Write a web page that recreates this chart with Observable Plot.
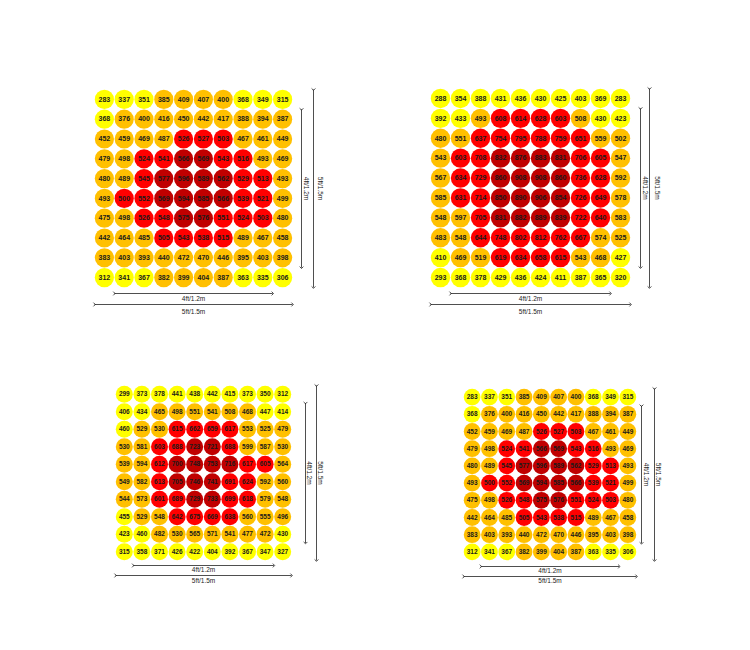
<!DOCTYPE html>
<html><head><meta charset="utf-8">
<script src="https://cdn.jsdelivr.net/npm/d3@7"></script>
<script src="https://cdn.jsdelivr.net/npm/@observablehq/plot@0.6"></script>
<style>
html,body{margin:0;padding:0;background:#fff;}
#wrap{position:relative;width:750px;height:650px;overflow:hidden;}
#wrap svg{position:absolute;left:0;top:0;}
</style></head><body><div id="wrap"></div>
<script>
// PPFD readings, rows top to bottom, columns left to right
const gridA = [
  [283,337,351,385,409,407,400,368,349,315],
  [368,376,400,416,450,442,417,388,394,387],
  [452,459,469,487,526,527,503,467,461,449],
  [479,498,524,541,566,569,543,516,493,469],
  [480,489,545,577,596,589,562,529,513,493],
  [493,500,552,569,594,585,566,539,521,499],
  [475,498,526,548,575,576,551,524,503,480],
  [442,464,485,505,543,538,515,489,467,458],
  [383,403,393,440,472,470,446,395,403,398],
  [312,341,367,382,399,404,387,363,335,306]
];
const gridB = [
  [288,354,388,431,436,430,425,403,369,283],
  [392,433,493,608,614,628,603,508,430,423],
  [480,551,637,754,795,788,759,651,559,502],
  [543,603,708,832,876,883,831,706,605,547],
  [567,634,729,860,908,908,860,736,628,592],
  [585,631,714,850,890,906,854,726,649,578],
  [548,597,705,831,882,889,839,722,640,583],
  [483,548,644,748,802,812,762,667,574,525],
  [410,469,519,619,634,658,615,543,468,427],
  [293,368,378,429,436,424,411,387,365,320]
];
const gridC = [
  [299,373,378,441,438,442,415,373,350,312],
  [406,434,465,498,551,541,508,468,447,414],
  [460,529,530,615,662,659,617,553,525,479],
  [530,581,603,688,723,721,688,599,587,530],
  [539,594,612,700,748,753,716,617,605,564],
  [549,582,613,705,746,741,691,624,592,560],
  [544,573,601,689,729,733,699,618,579,548],
  [455,529,548,642,675,669,638,560,555,496],
  [423,460,482,530,565,571,541,477,472,430],
  [315,358,371,426,422,404,392,367,347,327]
];
const thresholdsA = [375, 500, 556];
const thresholdsB = [450, 600, 820];
const thresholdsC = [462, 600, 700];
const levelColors = ["#ffff00", "#ffc000", "#ff0000", "#c00000"];
const dimLabels = ["4ft/1.2m", "5ft/1.5m"];
const dimFrom = [0.5, 0];
const dimTo = [4.5, 5];
const gridSize = 5; // ft

// layout (pixels) of each panel
const panels = [
  {grid: gridA, thr: thresholdsA, x: [94, 292], y: [89, 287], r: 9.6, fs: 7,
   hOff: [6, 17], hText: [11, 24], vOff: [9, 21], vText: [14, 28]},
  {grid: gridB, thr: thresholdsB, x: [430, 630], y: [88, 287], r: 9.7, fs: 7,
   hOff: [6, 17], hText: [11, 24], vOff: [10, 19], vText: [15, 27]},
  {grid: gridC, thr: thresholdsC, x: [115, 291], y: [385, 560], r: 8.5, fs: 6.5,
   hOff: [5, 15], hText: [9, 20], vOff: [14, 25], vText: [18, 29]},
  {grid: gridA, thr: thresholdsA, x: [463, 636], y: [388, 560], r: 8.4, fs: 6.5,
   hOff: [6, 16], hText: [10, 20], vOff: [5, 18], vText: [10, 22]}
];

const wrap = document.getElementById("wrap");
for (const p of panels) {
  const n = p.grid.length;
  const step = gridSize / n;
  const cells = [];
  p.grid.forEach((row, i) => row.forEach((v, j) => cells.push({x: (j + 0.5) * step, y: (i + 0.5) * step, v})));
  const dims = dimLabels.map((label, k) => ({label, from: dimFrom[k], to: dimTo[k], mid: (dimFrom[k] + dimTo[k]) / 2}));
  const marks = [
    Plot.dot(cells, {x: "x", y: "y", r: p.r, fill: "v"}),
    Plot.text(cells, {x: "x", y: "y", text: d => String(d.v), fill: "#1a1a1a", fontWeight: "bold", fontSize: p.fs})
  ];
  dims.forEach((d, k) => {
    marks.push(Plot.link([d], {x1: "from", x2: "to", y1: gridSize, y2: gridSize, dy: p.hOff[k], stroke: "#222", strokeWidth: 0.8, markerStart: "arrow", markerEnd: "arrow"}));
    marks.push(Plot.text([d], {x: "mid", y: gridSize, dy: p.hText[k], text: "label", fill: "#222", fontSize: 6.5}));
    marks.push(Plot.link([d], {y1: "from", y2: "to", x1: gridSize, x2: gridSize, dx: p.vOff[k], stroke: "#222", strokeWidth: 0.8, markerStart: "arrow", markerEnd: "arrow"}));
    marks.push(Plot.text([d], {y: "mid", x: gridSize, dx: p.vText[k], text: "label", fill: "#222", fontSize: 6.5, rotate: 90}));
  });
  const svg = Plot.plot({
    width: 750, height: 650, margin: 0,
    x: {domain: [0, gridSize], range: p.x, axis: null},
    y: {domain: [0, gridSize], range: p.y, axis: null},
    color: {type: "threshold", domain: p.thr, range: levelColors},
    style: {background: "transparent", fontFamily: "Liberation Sans, Arial, sans-serif", overflow: "visible"},
    marks
  });
  wrap.appendChild(svg);
}
</script></body></html>
